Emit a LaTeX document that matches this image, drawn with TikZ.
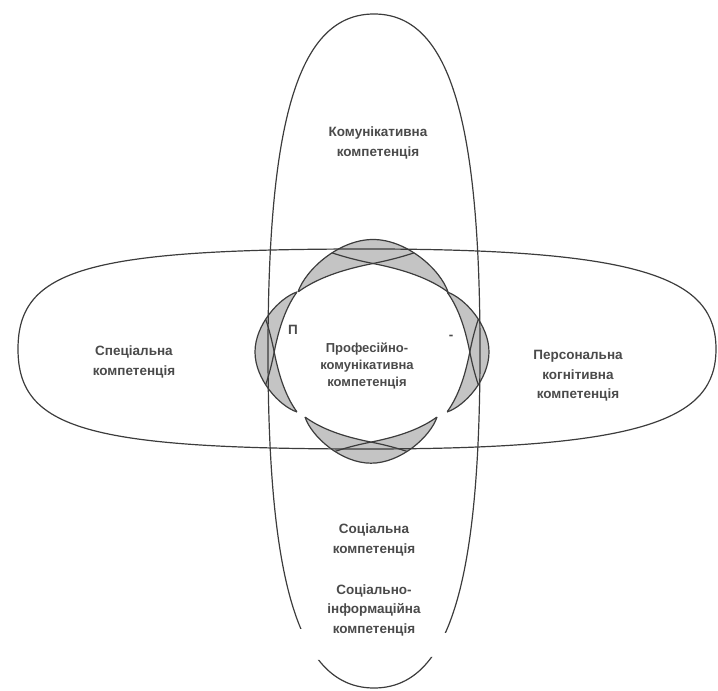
\documentclass[tikz,border=0pt]{standalone}
\usepackage{fontspec}
\setmainfont{Liberation Sans}
\usepackage{tikz}
\definecolor{ink}{HTML}{3C3C3C}
\definecolor{shade}{HTML}{C4C4C4}
\definecolor{txt}{HTML}{4A4A4A}

\begin{document}
\begin{tikzpicture}[x=1pt,y=1pt,
  oval/.style={ink,line width=1.2pt},
  petal/.style={fill=shade},
  lbl/.style={text=txt,font=\fontsize{13.5}{19.5}\selectfont\bfseries,align=center},
  core/.style={lbl,font=\fontsize{13}{17}\selectfont\bfseries}]
\clip (0,0) rectangle (718,691);
% four shaded petals round the centre
\begin{scope}[shift={(373,339)}]
\foreach \sx/\sy/\rot/\sc in {0/60/0/75,-76/0/90/60,74/0/-90/60,-2/-65/180/66}{
  \begin{scope}[shift={(\sx,\sy)},rotate=\rot,scale=\sc]
    \fill[petal] (-1,0) .. controls (-0.9,0.3) and (-0.45,0.7) .. (0,0.7)
      .. controls (0.45,0.7) and (0.9,0.3) .. (1,0)
      .. controls (0.7,0.22) and (0.3,0.32) .. (0,0.38)
      .. controls (-0.3,0.32) and (-0.7,0.22) .. cycle;
    \begin{scope}
      \clip (-1,0) .. controls (-0.9,0.3) and (-0.45,0.7) .. (0,0.7)
        .. controls (0.45,0.7) and (0.9,0.3) .. (1,0) -- cycle;
      \draw[oval] (-1,0) .. controls (-0.7,0.22) and (-0.3,0.32) .. (0,0.38)
        .. controls (0.3,0.44) and (0.6,0.52) .. (1,0.7);
      \draw[oval] (1,0) .. controls (0.7,0.22) and (0.3,0.32) .. (0,0.38)
        .. controls (-0.3,0.44) and (-0.6,0.52) .. (-1,0.7);
    \end{scope}
    \draw[oval] (-1,0) .. controls (-0.9,0.3) and (-0.45,0.7) .. (0,0.7)
      .. controls (0.45,0.7) and (0.9,0.3) .. (1,0);
  \end{scope}
}
\end{scope}
% horizontal oval
\draw[oval] (18,342) .. controls (18,422) and (88,442) .. (367,442)
  .. controls (646,442) and (716,412) .. (716,342)
  .. controls (716,272) and (646,242) .. (367,242)
  .. controls (88,242) and (18,262) .. cycle;
% vertical oval, broken near the bottom
\begin{scope}[even odd rule]
  \clip (0,0) rectangle (718,691)
    (280,31) rectangle (324,62) (418,34) rectangle (462,58);
  \draw[oval] (374,677) .. controls (448,677) and (480,576) .. (480,340)
    .. controls (480,104) and (448,3) .. (374,3)
    .. controls (300,3) and (268,104) .. (268,340)
    .. controls (268,576) and (300,677) .. cycle;
\end{scope}
% labels
\node[lbl] (kom) at (378,548) {Комунікативна\\компетенція};
\node[lbl] (spec) at (134,329) {Спеціальна\\компетенція};
\node[lbl] (pers) at (578,315) {Персональна\\когнітивна\\компетенція};
\node[core] (prof) at (367,325) {Професійно-\\комунікативна\\компетенція};
\node[lbl] (soc) at (374,151) {Соціальна\\компетенція};
\node[lbl] (socinf) at (374,81) {Соціально-\\інформаційна\\компетенція};
\node[lbl] (pmark) at (293,361) {П};
\node[lbl] (dmark) at (451,354) {-};
\end{tikzpicture}
\end{document}
